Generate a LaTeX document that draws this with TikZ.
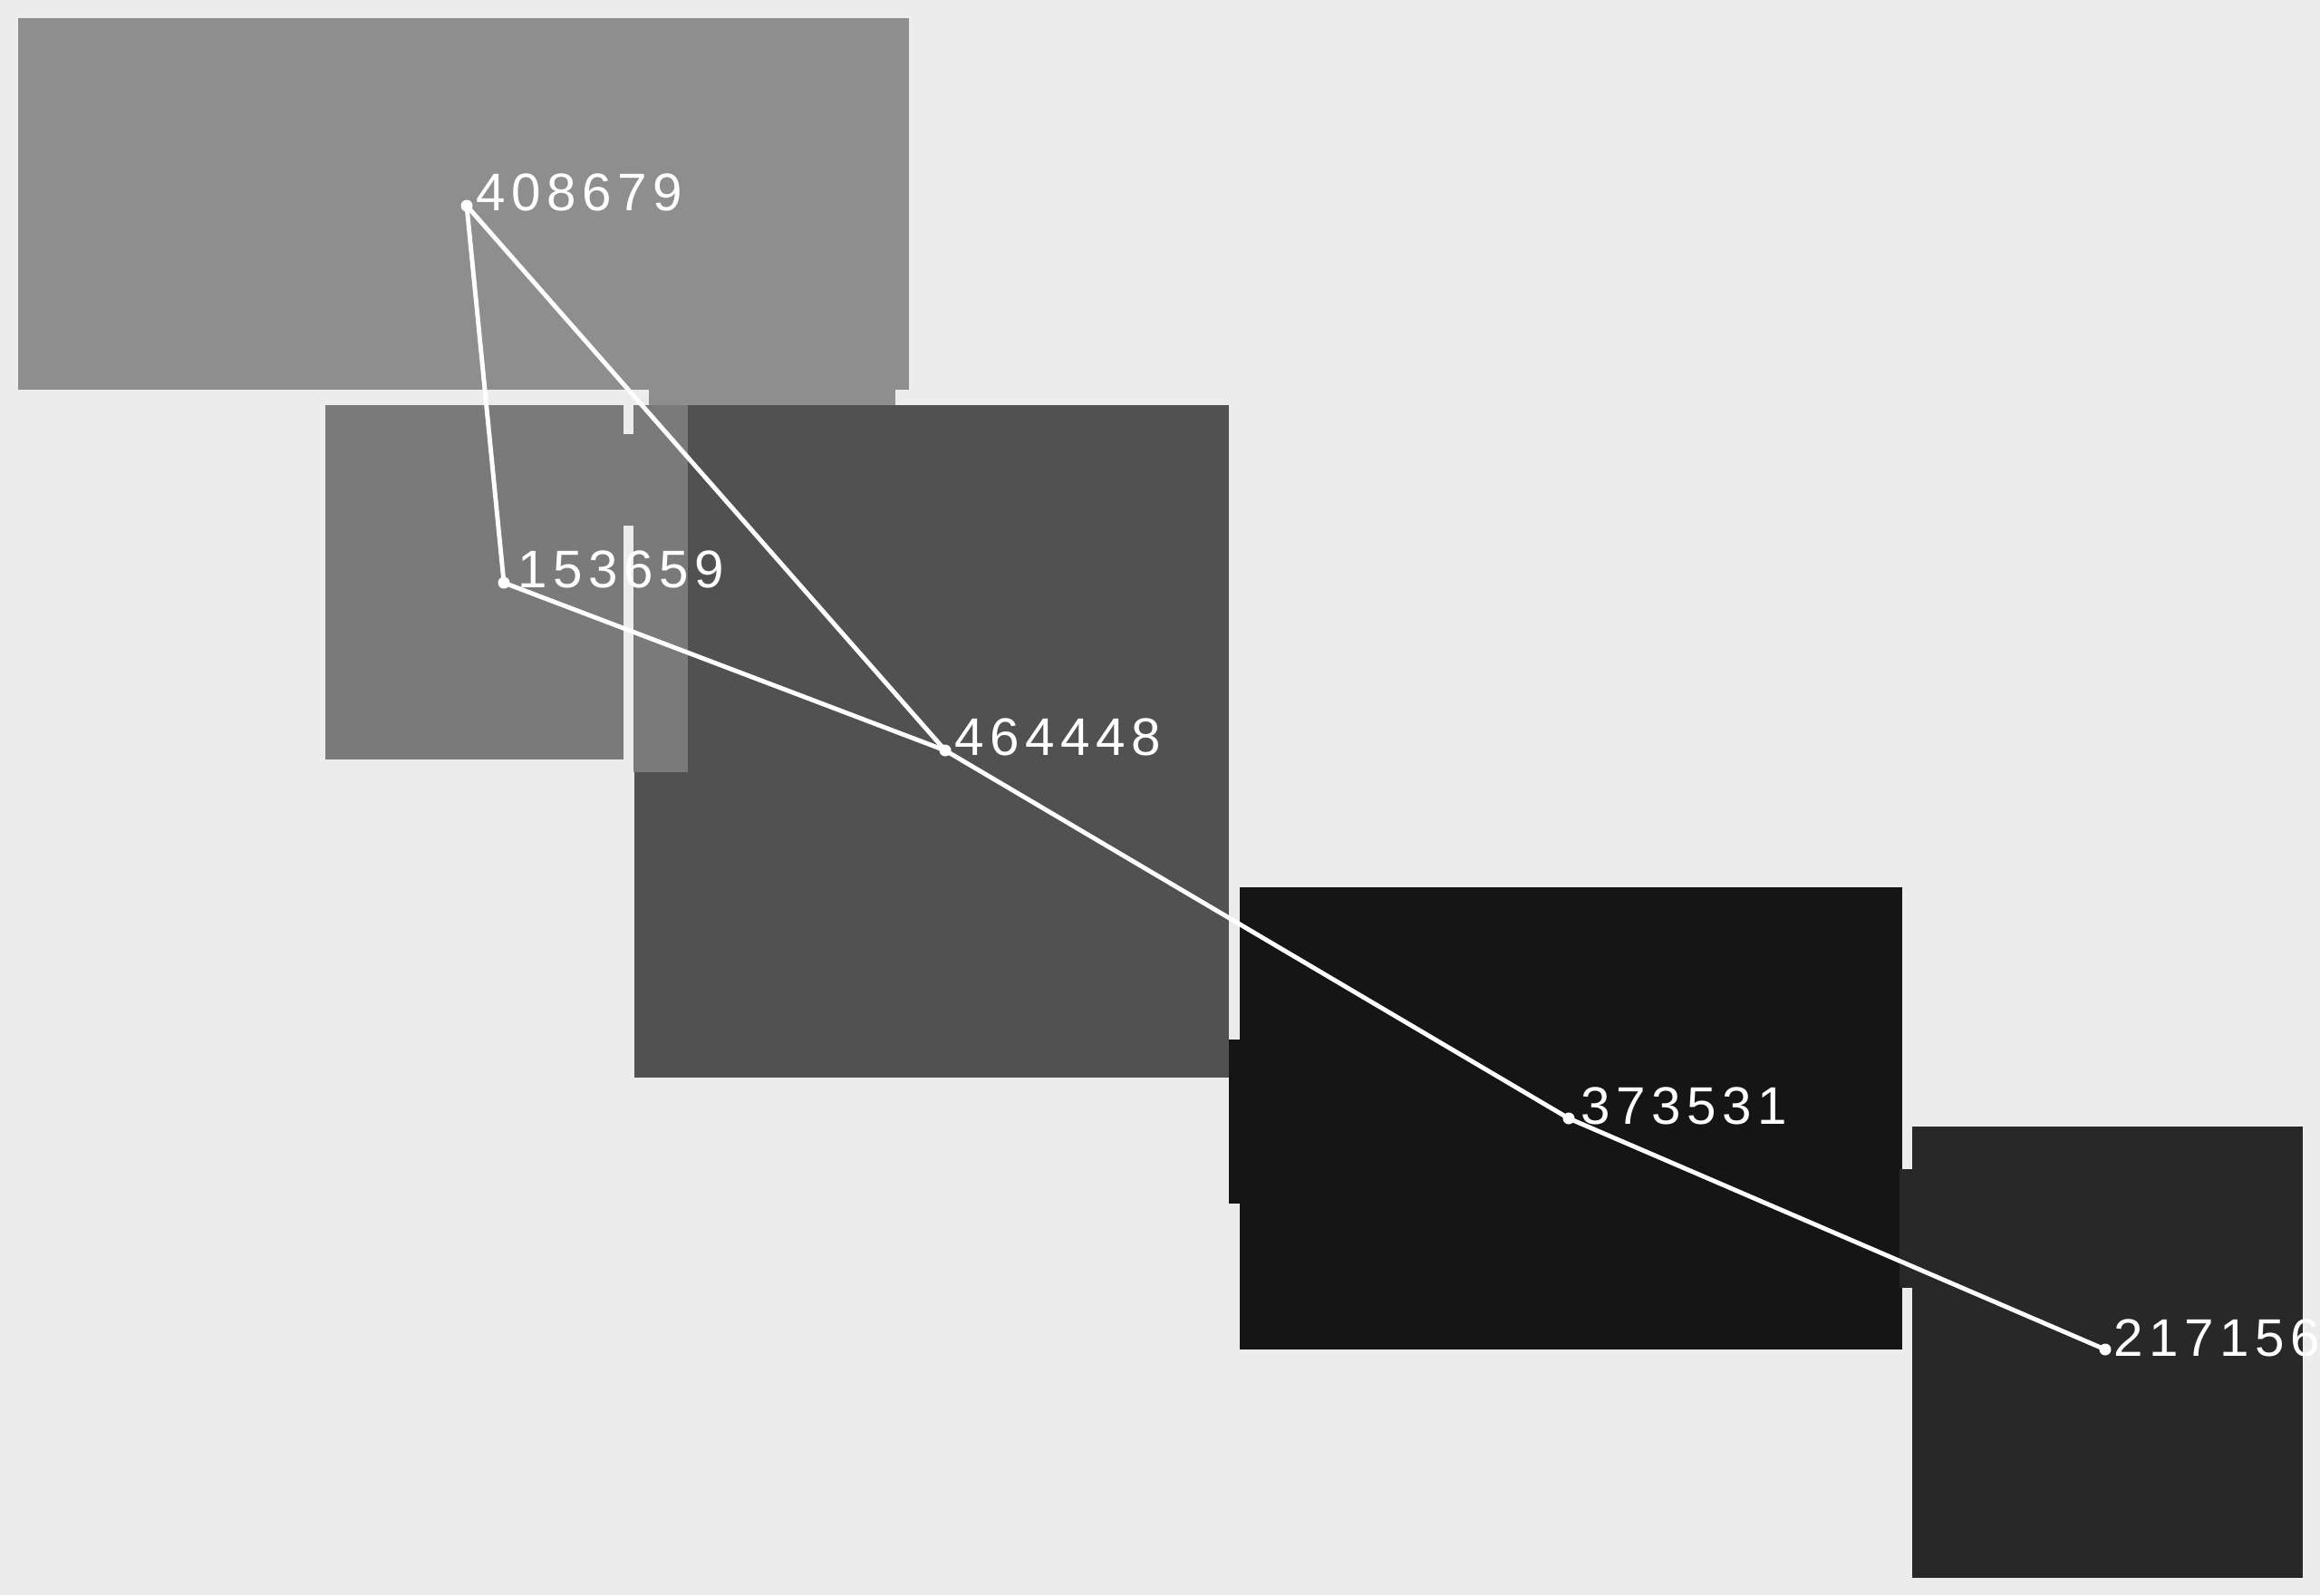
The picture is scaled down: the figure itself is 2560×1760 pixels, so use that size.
\documentclass[tikz,border=0pt]{standalone}
\usepackage{fontspec}
\setmainfont{Liberation Sans}[LetterSpace=11]
\definecolor{paper}{HTML}{ECECEC}
\definecolor{tileA}{HTML}{8E8E8E}
\definecolor{tileB}{HTML}{7A7A7A}
\definecolor{tileC}{HTML}{515151}
\definecolor{tileD}{HTML}{151515}
\definecolor{tileE}{HTML}{282828}
\begin{document}
\begin{tikzpicture}[x=0.01cm, y=-0.01cm,
    dot/.style={circle, fill=white, inner sep=0pt, minimum size=0.13cm},
    numtext/.style={text=white, inner sep=0pt, anchor=base west, font=\fontsize{16.6pt}{20pt}\selectfont},
    link/.style={white, line width=1.4pt}]
            \useasboundingbox (0,0) rectangle (2560,1760);
            \clip (0,0) rectangle (2560,1760);
            \fill[paper] (0,0) rectangle (2560,1760);
            % Tiles
            \fill[tileA] (20,20) rectangle (1003,430);
            \fill[tileA] (716,430) rectangle (988,447);
            \fill[tileC] (700,447) rectangle (1356,1189);
            \fill[tileB] (359,447) rectangle (688,838);
            \fill[tileB] (688,479) rectangle (699,580);
            \fill[tileB] (699,447) rectangle (759,852);
            \fill[tileD] (1368,979) rectangle (2099,1489);
            \fill[tileD] (1356,1147) rectangle (1368,1328);
            \fill[tileE] (2110,1243) rectangle (2541,1741);
            \fill[tileE] (2096,1290) rectangle (2110,1421);
            % Nodes
            \node[dot] (n408679) at (515,227) {};
            \node[dot] (n153659) at (556,643) {};
            \node[dot] (n464448) at (1043,828) {};
            \node[dot] (n373531) at (1731,1234) {};
            \node[dot] (n217156) at (2323,1489) {};
            \node[numtext] (t408679) at ([shift={(10,5)}]n408679.center) {408679};
            \node[numtext] (t153659) at ([shift={(15,5)}]n153659.center) {153659};
            \node[numtext] (t464448) at ([shift={(10,5)}]n464448.center) {464448};
            \node[numtext] (t373531) at ([shift={(13,6)}]n373531.center) {373531};
            \node[numtext] (t217156) at ([shift={(9,7)}]n217156.center) {217156};
            % Edges
            \draw[link] (n408679.center) -- (n153659.center);
            \draw[link] (n408679.center) -- (n464448.center);
            \draw[link] (n153659.center) -- (n464448.center);
            \draw[link] (n464448.center) -- (n373531.center);
            \draw[link] (n373531.center) -- (n217156.center);
        \end{tikzpicture}
\end{document}
